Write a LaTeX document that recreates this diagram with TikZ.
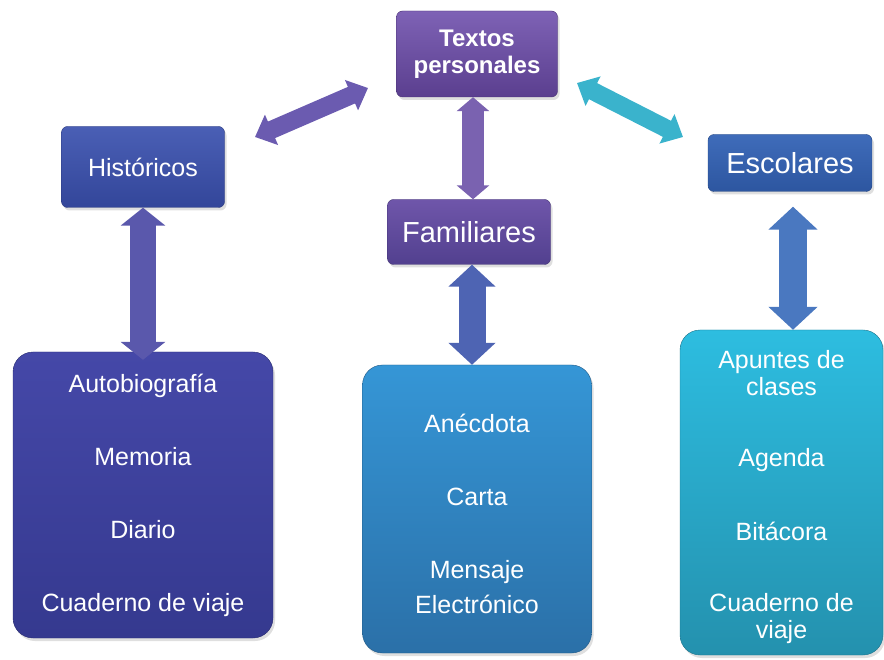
\documentclass[tikz,border=0pt]{standalone}
\usepackage{fontspec}
\setmainfont{Liberation Sans}
\usetikzlibrary{arrows.meta,shadows}
\definecolor{tpT}{HTML}{7E62B5}\definecolor{tpB}{HTML}{5B3F8F}
\definecolor{faT}{HTML}{6F56AA}\definecolor{faB}{HTML}{52408F}
\definecolor{hiT}{HTML}{4A5FB5}\definecolor{hiB}{HTML}{33469A}
\definecolor{esT}{HTML}{3F6CBA}\definecolor{esB}{HTML}{2D56A0}
\definecolor{lbT}{HTML}{4548A8}\definecolor{lbB}{HTML}{35398F}
\definecolor{mbT}{HTML}{3596D6}\definecolor{mbB}{HTML}{2B70A8}
\definecolor{rbT}{HTML}{2DBDE0}\definecolor{rbB}{HTML}{2491AE}
\definecolor{arL}{HTML}{6B5BB0}\definecolor{arTF}{HTML}{7A62B0}
\definecolor{arH}{HTML}{5A58AC}\definecolor{arR}{HTML}{3AB3CC}
\definecolor{arF}{HTML}{4E64B3}\definecolor{arE}{HTML}{4A78C0}
\tikzset{
  box/.style={rectangle, rounded corners=6pt, inner sep=0pt, text=white, align=center,
    drop shadow={opacity=0.25, shadow xshift=2pt, shadow yshift=-3pt}},
  bigbox/.style={box, rounded corners=20pt, font=\fontsize{25}{27}\selectfont},
  dbl/.style n args={3}{line width=#1, {Triangle[length=#3,width=#2]}-{Triangle[length=#3,width=#2]}}
}
\begin{document}
\begin{tikzpicture}[x=1pt,y=-1pt]
\useasboundingbox (0,0) rectangle (884,660);
% top level
\node[box, minimum width=161pt, minimum height=86pt, top color=tpT, bottom color=tpB, draw=tpB!80!black,
  font=\fontsize{24}{27}\selectfont\bfseries] (tp) at (477,54) {Textos\\personales};
\node[box, minimum width=163pt, minimum height=65pt, top color=faT, bottom color=faB, draw=faB!80!black,
  font=\fontsize{29}{32}\selectfont] (fam) at (469,232) {Familiares};
\node[box, minimum width=163pt, minimum height=81pt, top color=hiT, bottom color=hiB, draw=hiB!80!black,
  font=\fontsize{25}{28}\selectfont] (hist) at (143,167) {Históricos};
\node[box, minimum width=164pt, minimum height=57pt, top color=esT, bottom color=esB, draw=esB!80!black,
  font=\fontsize{29}{32}\selectfont] (esc) at (790,163) {Escolares};
% bottom boxes
\node[bigbox, minimum width=260pt, minimum height=286pt, top color=lbT, bottom color=lbB, draw=lbB!80!black]
  (lbox) at (143,495) {Autobiografía\\[46pt]Memoria\\[46pt]Diario\\[46pt]Cuaderno de viaje};
\node[bigbox, minimum width=229pt, minimum height=288pt, top color=mbT, bottom color=mbB, draw=mbB!80!black]
  (mbox) at (477,509) {\rule{0pt}{28pt}Anécdota\\[46pt]Carta\\[46pt]Mensaje\\[8pt]Electrónico};
\node[bigbox, minimum width=203pt, minimum height=325pt, top color=rbT, bottom color=rbB, draw=rbB!80!black]
  (rbox) at (781.5,492.5) {\rule{0pt}{28pt}Apuntes de\\clases\\[44pt]Agenda\\[47pt]Bitácora\\[44pt]Cuaderno de\\viaje};
% free ends of the diagonal arrows
\coordinate (tpL) at (368,88);
\coordinate (hiR) at (255,137);
\coordinate (tpR) at (577,83);
\coordinate (esL) at (683,137);
% connectors
\draw[dbl={18pt}{32pt}{18pt}, arL] (tpL) -- (hiR);
\draw[dbl={18pt}{32pt}{18pt}, arR] (tpR) -- (esL);
\draw[dbl={22pt}{32pt}{14pt}, arTF] ([xshift=-4pt]tp.south) -- ([xshift=-4pt]tp.south |- fam.north);
\draw[dbl={26pt}{44pt}{18pt}, arH] (hist.south) -- ([yshift=-8pt]hist.south |- lbox.north);
\draw[dbl={27pt}{46pt}{22pt}, arF] ([xshift=3pt]fam.south) -- ([xshift=3pt]fam.south |- mbox.north);
\draw[dbl={28pt}{48pt}{23pt}, arE] ([xshift=3pt,yshift=-15pt]esc.south) -- ([xshift=3pt]esc.south |- rbox.north);
\end{tikzpicture}
\end{document}
